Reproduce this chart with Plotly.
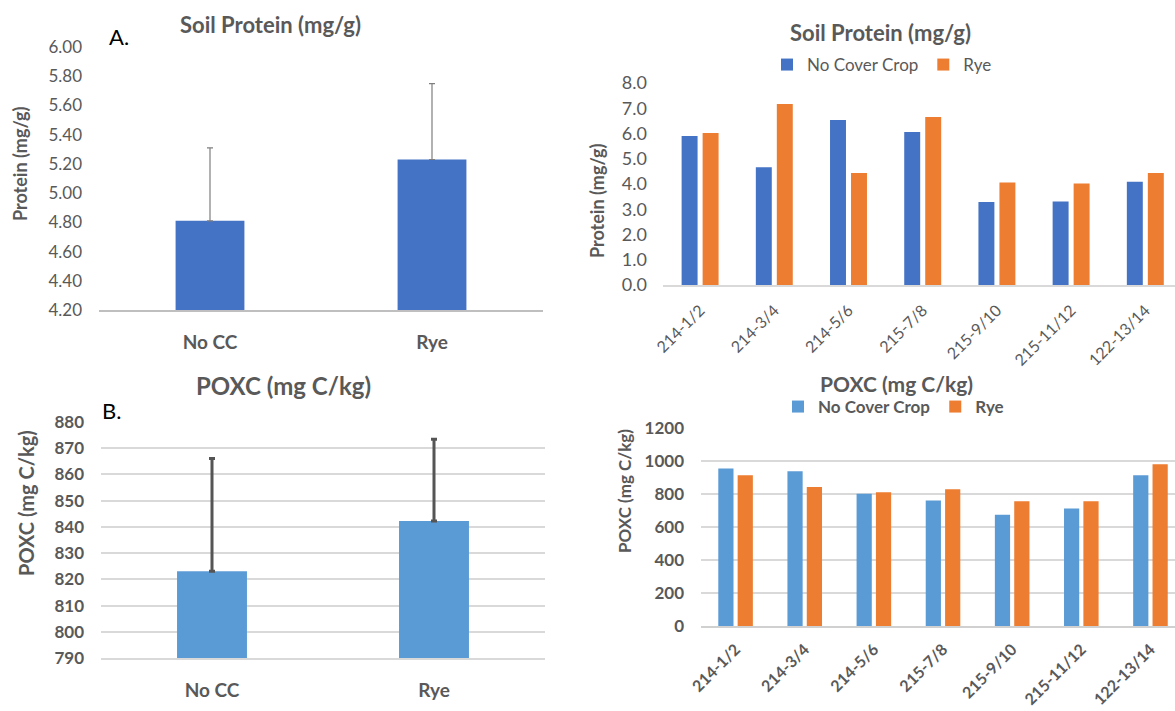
import plotly.graph_objects as go

W, H = 1175, 711

# ---------------- data ----------------
trt_labels = ["No CC", "Rye"]
protein_mean = [4.81, 5.23]
protein_err = [0.50, 0.52]
poxc_mean = [823.1, 842.2]
poxc_err = [43.0, 31.2]

sites = ["214-1/2", "214-3/4", "214-5/6", "215-7/8", "215-9/10", "215-11/12", "122-13/14"]
protein_nocc = [5.90, 4.66, 6.53, 6.06, 3.29, 3.31, 4.09]
protein_rye = [6.02, 7.17, 4.44, 6.65, 4.06, 4.02, 4.44]
poxc_nocc = [954, 938, 801, 760, 674, 712, 914]
poxc_rye = [914, 843, 811, 829, 756, 756, 980]

# ---------------- style ----------------
FONT = "Lato"
GRAY = "#595959"
BLUE_A = "#4472C4"
BLUE_B = "#5B9BD5"
ORANGE = "#ED7D31"


def px(x):
    return x / W


def py(y):
    return 1 - y / H


fig = go.Figure()

# Panel A
fig.add_trace(go.Bar(
    x=trt_labels, y=[m - 4.2 for m in protein_mean], base=4.2, width=0.31,
    marker=dict(color=BLUE_A, line=dict(width=0)),
    error_y=dict(type="data", symmetric=False, array=protein_err,
                 arrayminus=[0, 0], color="#7f7f7f", thickness=1.2, width=3),
    xaxis="x", yaxis="y", showlegend=False, name="Protein"))

# Panel C
fig.add_trace(go.Bar(x=sites, y=protein_nocc, width=0.215, offset=-0.249,
                     marker=dict(color=BLUE_A, line=dict(width=0)),
                     name="No Cover Crop", xaxis="x2", yaxis="y2", legend="legend"))
fig.add_trace(go.Bar(x=sites, y=protein_rye, width=0.215, offset=0.034,
                     marker=dict(color=ORANGE, line=dict(width=0)),
                     name="Rye", xaxis="x2", yaxis="y2", legend="legend"))

# Panel B
fig.add_trace(go.Bar(
    x=trt_labels, y=[m - 790 for m in poxc_mean], base=790, width=0.315,
    marker=dict(color=BLUE_B, line=dict(width=0)),
    error_y=dict(type="data", symmetric=False, array=poxc_err,
                 arrayminus=[0, 0], color="#555555", thickness=3, width=3),
    xaxis="x3", yaxis="y3", showlegend=False, name="POXC"))

# Panel D
fig.add_trace(go.Bar(x=sites, y=poxc_nocc, width=0.22, offset=-0.25,
                     marker=dict(color=BLUE_B, line=dict(width=0)),
                     name="No Cover Crop", xaxis="x4", yaxis="y4", legend="legend2"))
fig.add_trace(go.Bar(x=sites, y=poxc_rye, width=0.22, offset=0.03,
                     marker=dict(color=ORANGE, line=dict(width=0)),
                     name="Rye", xaxis="x4", yaxis="y4", legend="legend2"))

common_x = dict(type="category", ticks="", zeroline=False, showgrid=False,
                fixedrange=True, automargin=False)
common_y = dict(ticks="", zeroline=False, fixedrange=True, automargin=False)

fig.update_layout(
    template="none",
    width=W, height=H,
    margin=dict(l=0, r=0, t=0, b=0, pad=0, autoexpand=False),
    paper_bgcolor="white", plot_bgcolor="white",
    font=dict(family=FONT, color=GRAY),
    barmode="overlay",
    xaxis=dict(**common_x, domain=[px(99), px(543)], anchor="y", range=[-0.5, 1.5],
               showline=True, linecolor="#bfbfbf", linewidth=1.5,
               tickfont=dict(family=FONT, size=19, color=GRAY, weight="bold"),
               ticklabelstandoff=14),
    yaxis=dict(**common_y, domain=[py(310), py(47)], anchor="x", range=[4.2, 6.0],
               dtick=0.2, tick0=4.2, tickformat=".2f", showgrid=False, showline=False,
               tickfont=dict(family=FONT, size=17, color=GRAY), ticklabelstandoff=16),
    xaxis2=dict(**common_x, domain=[px(663), 1], anchor="y2", range=[-0.5, 6.4],
                showline=True, linecolor="#d9d9d9", linewidth=1.5, tickangle=-45,
                tickfont=dict(family=FONT, size=16, color=GRAY), ticklabelstandoff=8),
    yaxis2=dict(**common_y, domain=[py(285), py(83)], anchor="x2", range=[0, 8],
                dtick=1, tickformat=".1f", showgrid=False, showline=False,
                tickfont=dict(family=FONT, size=18, color=GRAY), ticklabelstandoff=15),
    xaxis3=dict(**common_x, domain=[px(101), px(545)], anchor="y3", range=[-0.5, 1.5],
                showline=True, linecolor="#d9d9d9", linewidth=1.5,
                tickfont=dict(family=FONT, size=19, color=GRAY, weight="bold"),
                ticklabelstandoff=14),
    yaxis3=dict(**common_y, domain=[py(658), py(422)], anchor="x3", range=[790, 880],
                dtick=10, showgrid=True, gridcolor="#d9d9d9", gridwidth=1.5, showline=False,
                tickfont=dict(family=FONT, size=17, color=GRAY, weight="bold"),
                ticklabelstandoff=16),
    xaxis4=dict(**common_x, domain=[px(701), 1], anchor="y4", range=[-0.5, 6.355],
                showline=True, linecolor="#d0d0d0", linewidth=1.5, tickangle=-45,
                tickfont=dict(family=FONT, size=16, color=GRAY, weight="bold"),
                ticklabelstandoff=6),
    yaxis4=dict(**common_y, domain=[py(626), py(428)], anchor="x4", range=[0, 1200],
                dtick=200, showgrid=True, gridcolor="#d9d9d9", gridwidth=1.5, showline=False,
                tickfont=dict(family=FONT, size=17, color=GRAY, weight="bold"),
                ticklabelstandoff=16),
    legend=dict(orientation="h", x=px(767), y=py(65), xanchor="left", yanchor="middle",
                font=dict(family=FONT, size=17, color=GRAY), bgcolor="rgba(0,0,0,0)",
                itemclick=False, itemdoubleclick=False),
    legend2=dict(orientation="h", x=px(778), y=py(407), xanchor="left", yanchor="middle",
                 font=dict(family=FONT, size=17, color=GRAY, weight="bold"),
                 bgcolor="rgba(0,0,0,0)", itemclick=False, itemdoubleclick=False),
)


def note(text, x, y, size, bold=True, color=GRAY, angle=0, bg=None, **kw):
    fig.add_annotation(text=text, x=px(x), y=py(y), xref="paper", yref="paper",
                       xanchor="center", yanchor="middle", showarrow=False,
                       textangle=angle, bgcolor=bg,
                       font=dict(family=FONT, size=size, color=color,
                                 weight="bold" if bold else "normal"), **kw)


# titles
note("Soil Protein (mg/g)", 270, 24, 22)
note("Soil Protein (mg/g)", 880, 33, 22)
note("POXC (mg C/kg)", 283, 385, 24)
note("POXC (mg C/kg)", 896, 383, 21)
# panel letters
note("A.", 119, 36, 22, bold=False, color="#000000")
note("B.", 128, 410, 22, bold=False, color="#000000", bg="white",
     width=52, height=28, align="left", borderpad=2)
# axis titles
note("Protein (mg/g)", 20, 164, 18, angle=-90)
note("Protein (mg/g)", 597, 201, 18, angle=-90)
note("POXC (mg C/kg)", 26, 503, 20, angle=-90)
note("POXC (mg C/kg)", 624, 491, 17, angle=-90)

fig.write_html("out.html", config={"displayModeBar": False},
               post_script="document.body.style.margin='0';document.body.style.overflow='hidden';")
